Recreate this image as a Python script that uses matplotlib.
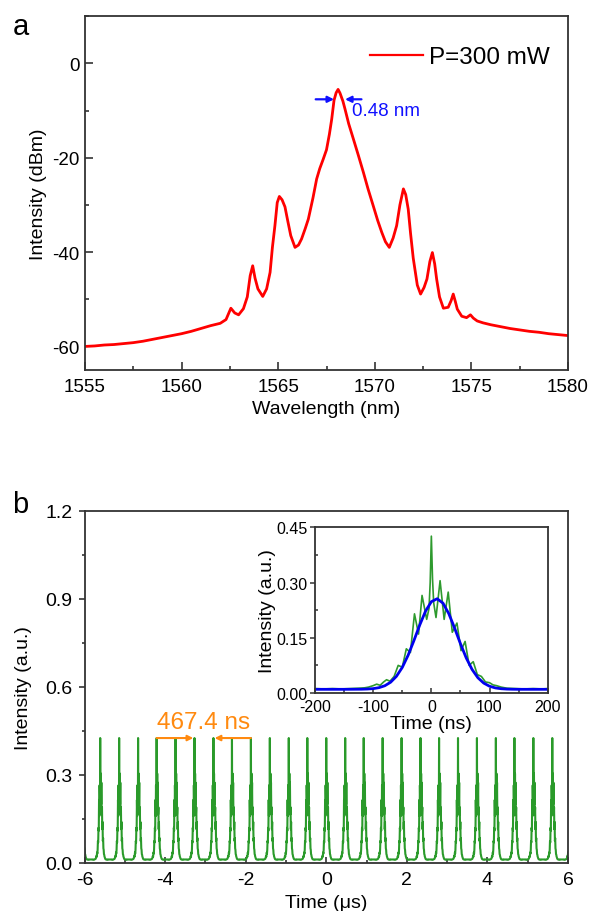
import matplotlib
matplotlib.use("Agg")
import matplotlib.pyplot as plt
from matplotlib.ticker import MultipleLocator, FormatStrFormatter
import numpy as np

plt.rcParams['font.family'] = ['Liberation Sans', 'DejaVu Sans']
plt.rcParams['axes.unicode_minus'] = False

# ---------------- data: panel a (spectrum) ----------------
wavelength_nm = [1555.0, 1555.5, 1556.0, 1556.5, 1557.0, 1557.5, 1558.0, 1558.5, 1559.0, 1559.5,
                 1560.0, 1560.5, 1561.0, 1561.5, 1562.0, 1562.3, 1562.55, 1562.75, 1562.95, 1563.2,
                 1563.4, 1563.55, 1563.68, 1563.8, 1563.95, 1564.2, 1564.4, 1564.58, 1564.7, 1564.83,
                 1564.95, 1565.06, 1565.2, 1565.35, 1565.5, 1565.65, 1565.87, 1566.05, 1566.21, 1566.4,
                 1566.56, 1566.8, 1566.99, 1567.15, 1567.33, 1567.5, 1567.65, 1567.77, 1567.89, 1568.0,
                 1568.1, 1568.2, 1568.35, 1568.46, 1568.65, 1568.89, 1569.15, 1569.41, 1569.65, 1569.92,
                 1570.15, 1570.36, 1570.55, 1570.75, 1570.95, 1571.13, 1571.3, 1571.48, 1571.6, 1571.73,
                 1571.85, 1571.99, 1572.2, 1572.37, 1572.55, 1572.7, 1572.85, 1572.98, 1573.1, 1573.2,
                 1573.35, 1573.55, 1573.8, 1573.95, 1574.06, 1574.17, 1574.27, 1574.5, 1574.75, 1574.95,
                 1575.1, 1575.3, 1575.6, 1576.0, 1576.5, 1577.0, 1577.5, 1578.0, 1578.5, 1579.0,
                 1579.5, 1580.0]
intensity_dbm = [-60.0, -59.9, -59.7, -59.6, -59.4, -59.2, -58.9, -58.5, -58.1, -57.7,
                 -57.3, -56.8, -56.2, -55.6, -55.1, -54.3, -51.9, -52.9, -53.3, -52.0,
                 -49.5, -45.0, -42.9, -45.5, -47.8, -49.4, -47.8, -44.3, -39.0, -34.4,
                 -29.5, -28.2, -28.9, -30.4, -33.5, -36.5, -39.0, -38.5, -37.2, -35.0,
                 -33.0, -28.5, -24.5, -22.3, -20.3, -18.3, -15.0, -11.8, -7.8, -6.2,
                 -5.5, -6.3, -8.0, -9.7, -12.8, -16.0, -19.5, -23.1, -26.6, -30.2,
                 -33.3, -35.8, -37.8, -39.0, -37.0, -34.4, -30.0, -26.6, -27.8, -30.9,
                 -36.0, -41.3, -47.0, -48.9, -47.5, -45.7, -42.0, -40.1, -42.5, -45.7,
                 -49.5, -51.9, -51.7, -50.3, -48.9, -50.5, -52.1, -53.6, -53.9, -53.3,
                 -54.0, -54.6, -55.0, -55.4, -55.8, -56.2, -56.5, -56.8, -57.0, -57.3,
                 -57.5, -57.7]
legend_label = "P=300 mW"
fwhm_edges_nm = [1567.89, 1568.46]     # half-maximum points marked by arrows
fwhm_level_dbm = -7.6
fwhm_text = "0.48 nm"

# ---------------- data: panel b (pulse train) ----------------
pulse_centers_us = [-6.08, -5.61, -5.14, -4.67, -4.21, -3.74, -3.27, -2.80, -2.34, -1.87, -1.40,
                    -0.93, -0.47, 0.00, 0.47, 0.93, 1.40, 1.87, 2.34, 2.80, 3.27, 3.74, 4.21,
                    4.67, 5.14, 5.61, 6.08]
# single-pulse profile (inset, green)
pulse_t_ns = [-200, -185, -170, -155, -140, -125, -115, -108, -100, -94, -88, -82, -77, -71, -64,
              -57, -50, -43, -36, -29, -22, -16, -8, -4, -2, 0, 2, 4, 8, 15, 22, 29, 36, 44, 51,
              58, 65, 72, 79, 86, 93, 100, 106, 112, 120, 130, 145, 160, 175, 190, 200]
pulse_int = [0.012, 0.011, 0.012, 0.011, 0.012, 0.013, 0.014, 0.016, 0.020, 0.024, 0.021, 0.030,
             0.036, 0.032, 0.045, 0.075, 0.070, 0.120, 0.110, 0.215, 0.160, 0.265, 0.200, 0.230,
             0.300, 0.426, 0.310, 0.245, 0.205, 0.305, 0.200, 0.274, 0.165, 0.190, 0.115, 0.140,
             0.075, 0.085, 0.050, 0.045, 0.030, 0.028, 0.022, 0.020, 0.016, 0.013, 0.012, 0.011,
             0.012, 0.011, 0.012]
# Gaussian fit (inset, blue)
fit_t_ns = [-200, -150, -120, -110, -100, -90, -80, -70, -60, -50, -40, -30, -20, -10, 0, 10,
            20, 30, 40, 50, 60, 70, 80, 90, 100, 110, 120, 130, 140, 150, 200]
fit_int = [0.010, 0.010, 0.0103, 0.0108, 0.0119, 0.0145, 0.0197, 0.0293, 0.0453, 0.0694, 0.1023,
           0.1422, 0.1845, 0.2223, 0.2480, 0.2560, 0.2440, 0.2155, 0.1762, 0.1339, 0.0951, 0.0639,
           0.0414, 0.0269, 0.0184, 0.0138, 0.0116, 0.0106, 0.0102, 0.010, 0.010]
period_text = "467.4 ns"
period_marked = (4, 6, 7, 9)   # indices of pulses bounding the arrows

RED = '#ff0000'
BLUE = '#1010ff'
GREEN = '#2a9a2a'
ORANGE = '#ff8a10'
SPINE = '#333333'

W, H = 589, 912
fig = plt.figure(figsize=(W / 100, H / 100), dpi=100)

def frac(l, t, r, b):
    return [l / W, 1 - b / H, (r - l) / W, (b - t) / H]

axa = fig.add_axes(frac(85, 17.3, 568, 371))
axb = fig.add_axes(frac(84.5, 512, 568, 864))
axi = fig.add_axes(frac(315, 528.3, 547.7, 694))

for ax in (axa, axb, axi):
    for s in ax.spines.values():
        s.set_color(SPINE)
        s.set_linewidth(1.3)

# ---------------- panel a ----------------
axa.plot(wavelength_nm, intensity_dbm, color=RED, lw=2.0, label=legend_label)
axa.set_xlim(1555, 1580)
axa.set_ylim(-65, 10)
axa.xaxis.set_major_locator(MultipleLocator(5))
axa.xaxis.set_minor_locator(MultipleLocator(2.5))
axa.yaxis.set_major_locator(MultipleLocator(20))
axa.yaxis.set_minor_locator(MultipleLocator(10))
axa.tick_params(which='both', direction='in', top=False, right=False, labelsize=13.5,
                color=SPINE, width=1.2)
axa.tick_params(which='major', length=5.5)
axa.tick_params(which='minor', length=3)
axa.tick_params(axis='x', pad=6)
axa.tick_params(axis='y', pad=4)
axa.set_xlabel("Wavelength (nm)", fontsize=14, labelpad=3)
axa.set_ylabel("Intensity (dBm)", fontsize=14, labelpad=4)
leg = axa.legend(loc='center right', bbox_to_anchor=(0.963, 0.884), frameon=False,
                 fontsize=17.5, handlelength=2.2, handletextpad=0.25, borderpad=0,
                 borderaxespad=0)
for ln in leg.get_lines():
    ln.set_linewidth(1.6)

arrow_kw = dict(arrowstyle='-|>', color=BLUE, lw=1.6, mutation_scale=9, shrinkA=0, shrinkB=0)
axa.annotate('', xy=(fwhm_edges_nm[0], fwhm_level_dbm), xytext=(fwhm_edges_nm[0] - 0.95, fwhm_level_dbm),
             arrowprops=arrow_kw)
axa.annotate('', xy=(fwhm_edges_nm[1], fwhm_level_dbm), xytext=(fwhm_edges_nm[1] + 0.85, fwhm_level_dbm),
             arrowprops=arrow_kw)
axa.text(fwhm_edges_nm[1] + 0.36, fwhm_level_dbm - 2.4, fwhm_text, color=BLUE, fontsize=13.5,
         ha='left', va='center')

# ---------------- panel b ----------------
xs, ys = [], []
for c in pulse_centers_us:
    xs.extend([c + t / 1000.0 for t in pulse_t_ns])
    ys.extend(pulse_int)
axb.plot(xs, ys, color=GREEN, lw=1.5)
axb.set_xlim(-6, 6)
axb.set_ylim(0, 1.2)
axb.xaxis.set_major_locator(MultipleLocator(2))
axb.xaxis.set_minor_locator(MultipleLocator(1))
axb.yaxis.set_major_locator(MultipleLocator(0.3))
axb.yaxis.set_minor_locator(MultipleLocator(0.15))
axb.yaxis.set_major_formatter(FormatStrFormatter('%.1f'))
axb.tick_params(which='both', top=False, right=False, labelsize=14, color=SPINE, width=1.2)
axb.tick_params(axis='x', which='both', direction='in', pad=6)
axb.tick_params(axis='y', which='both', direction='out', pad=4)
axb.tick_params(which='major', length=4.5)
axb.tick_params(which='minor', length=2.5)
axb.set_xlabel("Time (μs)", fontsize=14, labelpad=4)
axb.set_ylabel("Intensity (a.u.)", fontsize=14, labelpad=10)

i0, i1, i2, i3 = period_marked
yarr = max(pulse_int)
okw = dict(arrowstyle='-|>', color=ORANGE, lw=1.5, mutation_scale=8, shrinkA=0, shrinkB=0)
axb.annotate('', xy=(pulse_centers_us[i1] - 0.03, yarr), xytext=(pulse_centers_us[i0], yarr), arrowprops=okw)
axb.annotate('', xy=(pulse_centers_us[i2] + 0.03, yarr), xytext=(pulse_centers_us[i3], yarr), arrowprops=okw)
axb.text((pulse_centers_us[i0] + pulse_centers_us[i3]) / 2, yarr + 0.055, period_text, color=ORANGE,
         fontsize=17.5, ha='center', va='center')

# ---------------- inset ----------------
axi.plot(pulse_t_ns, pulse_int, color='#2e9a2e', lw=1.2)
axi.plot(fit_t_ns, fit_int, color='#0000ee', lw=2.0)
axi.set_xlim(-200, 200)
axi.set_ylim(0, 0.45)
axi.xaxis.set_major_locator(MultipleLocator(100))
axi.xaxis.set_minor_locator(MultipleLocator(50))
axi.yaxis.set_major_locator(MultipleLocator(0.15))
axi.yaxis.set_minor_locator(MultipleLocator(0.075))
axi.yaxis.set_major_formatter(FormatStrFormatter('%.2f'))
axi.tick_params(which='both', top=False, right=False, labelsize=11.5, color=SPINE, width=1.1)
axi.tick_params(axis='x', which='both', direction='in', pad=4)
axi.tick_params(axis='y', which='major', direction='out', length=3.5, pad=2)
axi.tick_params(axis='y', which='minor', direction='in', length=2)
axi.tick_params(axis='x', which='major', length=3.5)
axi.tick_params(axis='x', which='minor', length=2)
axi.set_xlabel("Time (ns)", fontsize=14, labelpad=1)
axi.set_ylabel("Intensity (a.u.)", fontsize=14, labelpad=0)

fig.text(20.7 / W, 1 - 27 / H, 'a', fontsize=21, ha='center', va='center')
fig.text(20.7 / W, 1 - 505 / H, 'b', fontsize=21, ha='center', va='center')

fig.savefig('out.png', dpi=100)
